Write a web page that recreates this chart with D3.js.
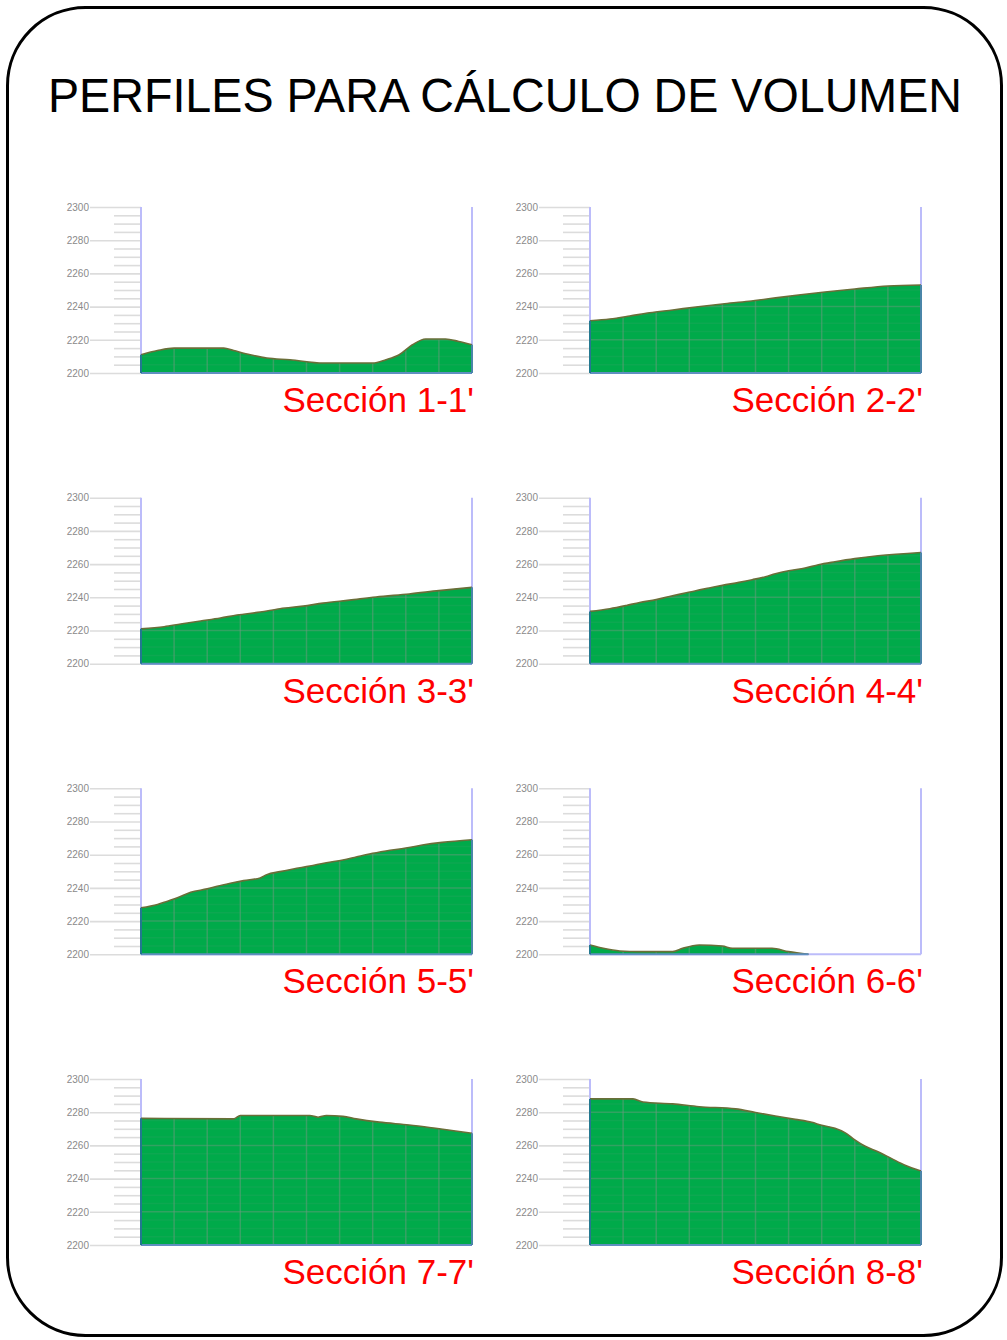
<!DOCTYPE html>
<html>
<head>
<meta charset="utf-8">
<script src="https://cdn.jsdelivr.net/npm/d3@7"></script>
<style>
  body { margin: 0; background: #fff; }
  svg { display: block; }
</style>
</head>
<body>
<svg id="lamina" width="1007" height="1340"></svg>
<script>
// Title and section names
const titulo = "PERFILES PARA CÁLCULO DE VOLUMEN";
const secciones = ["Sección 1-1'", "Sección 2-2'", "Sección 3-3'", "Sección 4-4'",
                   "Sección 5-5'", "Sección 6-6'", "Sección 7-7'", "Sección 8-8'"];

// Elevation axis (m)
const cotaTicks = [2200, 2220, 2240, 2260, 2280, 2300];
const cotaDominio = [2200, 2300];
// Horizontal distance along each section (% of section length)
const distDominio = [0, 100];
const distGrid = [10, 20, 30, 40, 50, 60, 70, 80, 90];

// Terrain profiles: [distance %, elevation m]
const perfil1 = [[0, 2211], [5, 2213.5], [10, 2215], [25, 2215], [28, 2213.5], [33, 2211],
  [38, 2209], [45, 2208], [55, 2206], [70, 2206], [74, 2208], [78, 2211], [82, 2217],
  [86, 2220.5], [92, 2220.5], [96, 2219], [100, 2217]];
const perfil2 = [[0, 2231.5], [6, 2232.5], [12, 2234.3], [18, 2236.3], [25, 2238], [32, 2239.8],
  [40, 2241.6], [48, 2243.2], [55, 2245], [63, 2247], [71, 2248.8], [80, 2250.6], [90, 2252.4],
  [100, 2253]];
const perfil3 = [[0, 2221], [7, 2222.3], [12, 2223.9], [18, 2225.7], [24, 2227.5], [29, 2229.3],
  [36, 2231.1], [42, 2233.1], [49, 2234.7], [55, 2236.5], [63, 2238.3], [71, 2240.2], [81, 2242],
  [90, 2244], [100, 2246]];
const perfil4 = [[0, 2231.5], [6, 2233.1], [11, 2235.1], [15, 2236.9], [20, 2238.6], [24, 2240.5],
  [28, 2242.2], [32, 2244], [36, 2245.6], [40, 2247.2], [45, 2249], [49, 2250.6], [53, 2252.4],
  [56, 2254.2], [60, 2256], [65, 2257.6], [69, 2259.6], [74, 2261.4], [80, 2263.3], [87, 2265],
  [100, 2267]];
const perfil5 = [[0, 2228], [5, 2230], [8, 2232], [11, 2234], [15, 2237.4], [20, 2239.4],
  [23, 2241], [27, 2242.8], [31, 2244.4], [36, 2246], [38, 2248], [42, 2249.8], [46, 2251.4],
  [51, 2253.2], [56, 2255.2], [61, 2256.8], [65, 2258.6], [69, 2260.4], [74, 2262.2], [80, 2264],
  [85, 2265.8], [91, 2267.4], [100, 2269]];
const perfil6 = [[0, 2205.6], [4, 2203.6], [9, 2202], [15, 2201.6], [25, 2201.6], [28, 2203.6],
  [33, 2205.6], [40, 2205], [43, 2203.6], [55, 2203.6], [60, 2201.6], [66, 2200]];
const perfil7 = [[0, 2276.3], [28, 2276], [30, 2278], [51, 2278], [53.5, 2277], [56, 2278],
  [61, 2277.5], [65, 2276], [72, 2274], [81, 2272.3], [89, 2270.3], [95, 2268.7], [100, 2267.3]];
const perfil8 = [[0, 2288], [13, 2288], [16, 2286.1], [25, 2285], [33, 2283.3], [44, 2282],
  [50, 2279.8], [56, 2277.7], [62, 2275.7], [67, 2273.9], [70, 2272.1], [74, 2270.3],
  [77, 2267.7], [80, 2263.3], [83, 2259.6], [87, 2256.2], [91, 2252.2], [95, 2248.2],
  [100, 2244.6]];
const perfiles = [perfil1, perfil2, perfil3, perfil4, perfil5, perfil6, perfil7, perfil8];

const svg = d3.select("#lamina");
const fuente = "'Liberation Sans', Arial, Helvetica, sans-serif";

// Rounded frame
svg.append("rect")
  .attr("x", 7.5).attr("y", 7.5).attr("width", 994).attr("height", 1328)
  .attr("rx", 78).attr("ry", 78)
  .attr("fill", "#fff").attr("stroke", "#000").attr("stroke-width", 3);

// Title
svg.append("text")
  .attr("x", 48).attr("y", 112)
  .attr("font-family", fuente)
  .attr("font-size", 48)
  .attr("textLength", 914)
  .attr("lengthAdjust", "spacingAndGlyphs")
  .attr("fill", "#000")
  .text(titulo);

// Panel layout
const colX = [141, 590];
const rowY = [207, 497.7, 788.3, 1079];
const W = 331, H = 166;

const x = d3.scaleLinear().domain(distDominio).range([0, W]);
const y = d3.scaleLinear().domain(cotaDominio).range([H, 0]);
const minorTicks = d3.range(2205, 2300, 5).filter(v => v % 20 !== 0);

const area = d3.area().x(d => x(d[0])).y0(H).y1(d => y(d[1])).curve(d3.curveMonotoneX);
const linea = d3.line().x(d => x(d[0])).y(d => y(d[1])).curve(d3.curveMonotoneX);

perfiles.forEach((datos, i) => {
  const g = svg.append("g")
    .attr("transform", `translate(${colX[i % 2]},${rowY[Math.floor(i / 2)]})`);

  // Minor elevation ticks
  const minor = g.append("g").call(
    d3.axisLeft(y).tickValues(minorTicks).tickSize(27).tickFormat(""));
  minor.select(".domain").remove();
  minor.selectAll(".tick line").attr("stroke", "#dcdcdc").attr("stroke-width", 1.6);

  // Major elevation ticks with labels
  const major = g.append("g").call(
    d3.axisLeft(y).tickValues(cotaTicks).tickSize(51).tickPadding(1).tickFormat(d3.format("d")));
  major.select(".domain").remove();
  major.selectAll(".tick line").attr("stroke", "#dcdcdc").attr("stroke-width", 1.6);
  major.selectAll(".tick text")
    .attr("font-family", fuente).attr("font-size", 10).attr("fill", "#8a8a8a");

  // Plot frame (lavender axes)
  const marco = "#bcbcfa";
  g.append("line").attr("x1", 0).attr("x2", 0).attr("y1", 0).attr("y2", H)
    .attr("stroke", marco).attr("stroke-width", 2);
  g.append("line").attr("x1", W).attr("x2", W).attr("y1", 0).attr("y2", H)
    .attr("stroke", marco).attr("stroke-width", 2);
  g.append("line").attr("x1", 0).attr("x2", W).attr("y1", H).attr("y2", H)
    .attr("stroke", marco).attr("stroke-width", 2);

  // Terrain fill
  g.append("path").datum(datos).attr("d", area).attr("fill", "#00aa4a");

  // Grid visible through the terrain
  const clipId = `terreno-${i}`;
  g.append("clipPath").attr("id", clipId)
    .append("path").datum(datos).attr("d", area);
  const grid = g.append("g").attr("clip-path", `url(#${clipId})`);
  grid.selectAll("line.v").data(distGrid).join("line")
    .attr("x1", d => x(d)).attr("x2", d => x(d)).attr("y1", 0).attr("y2", H)
    .attr("stroke", "#6f9a80").attr("stroke-opacity", 0.5).attr("stroke-width", 1.5);
  grid.selectAll("line.h").data(cotaTicks.slice(1, -1)).join("line")
    .attr("x1", 0).attr("x2", W).attr("y1", d => y(d)).attr("y2", d => y(d))
    .attr("stroke", "#6f9a80").attr("stroke-opacity", 0.45).attr("stroke-width", 1.5);
  grid.selectAll("line.m").data(minorTicks).join("line")
    .attr("x1", 0).attr("x2", W).attr("y1", d => y(d)).attr("y2", d => y(d))
    .attr("stroke", "#6f9a80").attr("stroke-opacity", 0.12).attr("stroke-width", 1.5);

  // Terrain outline
  g.append("path").datum(datos).attr("d", linea)
    .attr("fill", "none").attr("stroke", "#6a6e38").attr("stroke-width", 1.6);

  // Section base and left edge
  const first = datos[0], last = datos[datos.length - 1];
  g.append("line").attr("x1", x(first[0])).attr("x2", x(last[0])).attr("y1", H).attr("y2", H)
    .attr("stroke", "#5f8fc0").attr("stroke-width", 2);
  g.append("line").attr("x1", 0).attr("x2", 0).attr("y1", y(first[1])).attr("y2", H)
    .attr("stroke", "#237890").attr("stroke-width", 2);
  if (last[0] === distDominio[1]) {
    g.append("line").attr("x1", W).attr("x2", W).attr("y1", y(last[1])).attr("y2", H)
      .attr("stroke", "#4a85a8").attr("stroke-width", 2);
  }

  // Section name
  g.append("text")
    .attr("x", W + 2).attr("y", H + 39)
    .attr("text-anchor", "end")
    .attr("font-family", fuente)
    .attr("font-size", 35)
    .attr("fill", "#ff0000")
    .text(secciones[i]);
});
</script>
</body>
</html>
